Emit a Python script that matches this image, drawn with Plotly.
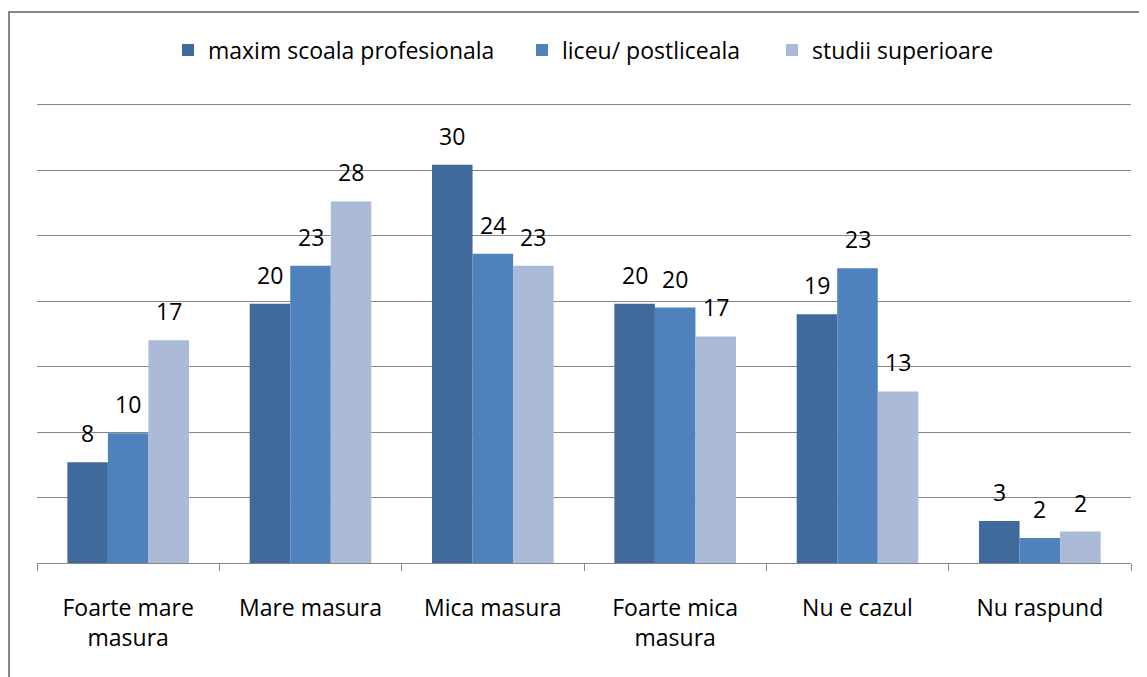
import plotly.graph_objects as go

categories = ["Foarte mare<br>masura", "Mare masura", "Mica masura",
              "Foarte mica<br>masura", "Nu e cazul", "Nu raspund"]
series_names = ["maxim scoala profesionala", "liceu/ postliceala", "studii superioare"]
vals_prof = [7.7, 19.8, 30.4, 19.8, 19.0, 3.2]
vals_liceu = [9.9, 22.7, 23.6, 19.5, 22.5, 1.9]
vals_sup = [17.0, 27.6, 22.7, 17.3, 13.1, 2.4]
labels_prof = [8, 20, 30, 20, 19, 3]
labels_liceu = [10, 23, 24, 20, 23, 2]
labels_sup = [17, 28, 23, 17, 13, 2]
colors = ["#40699C", "#4F81BD", "#AABAD7"]

all_vals = [vals_prof, vals_liceu, vals_sup]
all_labels = [labels_prof, labels_liceu, labels_sup]

FONT = "Open Sans"
FS = 23
legend_ids = ["legend", "legend2", "legend3"]
legend_x = [160 / 1147, 514 / 1147, 764 / 1147]

fig = go.Figure()
for name, vals, col, lg in zip(series_names, all_vals, colors, legend_ids):
    fig.add_trace(go.Bar(x=categories, y=vals, name=name, marker_color=col,
                         marker_line_width=0, legend=lg))

bar_px = 40.5
for j, (vals, labs) in enumerate(zip(all_vals, all_labels)):
    for c, v, l in zip(categories, vals, labs):
        fig.add_annotation(x=c, y=v, text=str(l), showarrow=False,
                           xref="x", yref="y", xshift=(j - 1) * bar_px,
                           yshift=29, yanchor="middle",
                           font=dict(family=FONT, size=FS, color="#000000"))

plot_top = 90
fig.add_shape(type="rect", xref="paper", yref="paper",
              x0=(1 - 29) / 1094, x1=1.1, y0=-0.6,
              y1=1 + (plot_top - 4) / (555 - plot_top),
              line=dict(color="#878787", width=2), layer="below")

legend_common = dict(orientation="h", xref="container", yref="container",
                     y=1 - 42 / 677, xanchor="left", yanchor="middle",
                     font=dict(family=FONT, size=FS), itemwidth=30,
                     bgcolor="rgba(0,0,0,0)")
fig.update_layout(
    width=1147, height=677, autosize=False,
    margin=dict(l=29, r=24, t=plot_top, b=122),
    paper_bgcolor="white", plot_bgcolor="white",
    barmode="group", bargap=0.333, bargroupgap=0,
    font=dict(family=FONT, size=FS, color="#000000"),
    legend=dict(x=legend_x[0], **legend_common),
    legend2=dict(x=legend_x[1], **legend_common),
    legend3=dict(x=legend_x[2], **legend_common),
    showlegend=True,
)
fig.update_xaxes(showline=True, linecolor="#878787", linewidth=1,
                 ticks="outside", ticklen=7, tickcolor="#878787",
                 tickson="boundaries", showgrid=False, ticklabelstandoff=24,
                 tickfont=dict(family=FONT, size=FS, color="#000000"))
fig.update_yaxes(range=[0, 35.5], dtick=5, showgrid=True, gridcolor="#878787",
                 gridwidth=1, showticklabels=False, zeroline=False,
                 showline=False, ticks="")

fig.write_html("out.html")
